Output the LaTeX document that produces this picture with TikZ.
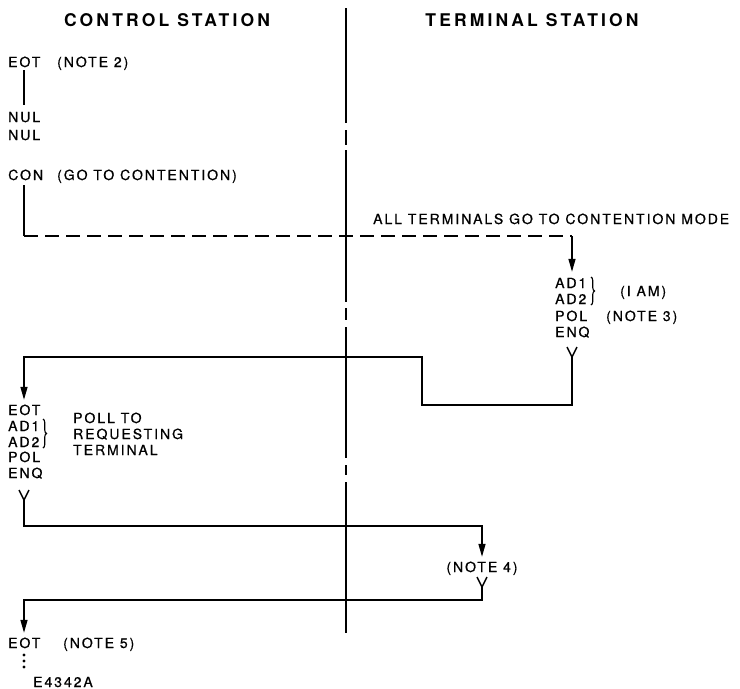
\documentclass[tikz,border=0pt]{standalone}
\usepackage{fontspec}
\setmainfont[LetterSpace=14, UprightFeatures={FakeBold=0.7}]{TeX Gyre Heros}
\usetikzlibrary{arrows.meta,decorations.pathreplacing,calc}
\begin{document}
\begin{tikzpicture}[x=1pt,y=-1pt,
  lbl/.style={inner sep=0pt, anchor=west, font=\fontsize{14}{16}\selectfont, text height=10pt, text depth=0pt},
  hdr/.style={inner sep=0pt, font=\fontsize{17.5}{20}\selectfont\bfseries\addfontfeature{LetterSpace=18}, text height=12.5pt, text depth=0pt},
  line/.style={line width=1.5pt},
  flow/.style={line width=1.5pt, -{Triangle[length=13pt,width=7pt]}},
  dashline/.style={line width=1.5pt, dash pattern=on 14pt off 7pt},
  brc/.style={line width=1.1pt, decorate, decoration={brace, amplitude=3.5pt}},
  dot/.style={circle, fill, inner sep=0pt, minimum size=3.2pt},
]
\useasboundingbox (0,0) rectangle (740,689);

% column coordinates
\coordinate (L) at (24,0);
\coordinate (T) at (572,0);
\coordinate (N) at (482,0);

% divider
\foreach \a/\b in {8/123,130/145,150/302,308/320,327/458,465/475,482/633}
  \draw[line] (346,\a) -- (346,\b);

% headers
\node[hdr] (hc) at (167,20) {CONTROL STATION};
\node[hdr] (ht) at (532,20) {TERMINAL STATION};

% control station, top
\node[lbl] (eot1) at (8,62) {EOT};
\node[lbl] (note2) at (57,62) {(NOTE 2)};
\node[lbl] (nul1) at (8,117) {NUL};
\node[lbl] (nul2) at (8,135) {NUL};
\node[lbl] (con) at (8,175) {CON};
\node[lbl] (gocon) at (57,175) {(GO TO CONTENTION)};

\draw[line] ([yshift=-3pt]eot1.south -| L) -- ([yshift=7pt]nul1.north -| L);

% contention broadcast
\node[lbl] (allt) at (373,219) {ALL TERMINALS GO TO CONTENTION MODE};
\coordinate (d1) at (24,236);
\coordinate (d2) at (572,236);
\draw[line] ([yshift=-5pt]con.south -| L) -- (d1);
\draw[dashline] (d1) -- (d2);

% terminal response
\node[lbl] (tad1) at (555,283) {AD1};
\node[lbl] (tad2) at (555,299) {AD2};
\node[lbl] (tpol) at (555,316) {POL};
\node[lbl] (tenq) at (555,332) {ENQ};
\node[lbl] (iam) at (620,291) {(I AM)};
\node[lbl] (note3) at (606,316) {(NOTE 3)};
\draw[brc] (591,277) -- (591,305);

\draw[flow] (d2) -- ([yshift=6pt]tad1.north -| T);

% fork under terminal ENQ
\coordinate (f1) at (572,357);
\draw[line] ($(f1)+(-5,-10)$) -- (f1) -- ($(f1)+(5,-10)$);
\coordinate (b1) at (572,405);
\coordinate (b2) at (422,405);
\coordinate (b3) at (422,357);
\coordinate (b4) at (24,357);

% control poll
\node[lbl] (ceot) at (8,410) {EOT};
\node[lbl] (cad1) at (8,426) {AD1};
\node[lbl] (cad2) at (8,442) {AD2};
\node[lbl] (cpol) at (8,457) {POL};
\node[lbl] (cenq) at (8,473) {ENQ};
\draw[brc] (43,419) -- (43,448);
\node[lbl] (poll1) at (73,418) {POLL TO};
\node[lbl] (poll2) at (73,434) {REQUESTING};
\node[lbl] (poll3) at (73,450) {TERMINAL};

\draw[flow] (f1) -- (b1) -- (b2) -- (b3) -- (b4) -- ([yshift=5pt]ceot.north -| L);

% fork under control ENQ
\coordinate (f2) at (24,500);
\draw[line] ($(f2)+(-5,-10)$) -- (f2) -- ($(f2)+(5,-10)$);
\coordinate (c1) at (24,526);
\coordinate (c2) at (482,526);

% note 4
\node[lbl, anchor=center] (note4) at (482,567) {(NOTE 4)};
\draw[flow] (f2) -- (c1) -- (c2) -- ([yshift=5pt]note4.north -| N);

% fork under note 4
\coordinate (f3) at (482,587);
\draw[line] ($(f3)+(-5,-10)$) -- (f3) -- ($(f3)+(5,-10)$);
\coordinate (e1) at (482,600);
\coordinate (e2) at (24,600);

% final EOT
\node[lbl] (eot5) at (8,643) {EOT};
\node[lbl] (note5) at (63,643) {(NOTE 5)};
\draw[flow] (f3) -- (e1) -- (e2) -- ([yshift=5pt]eot5.north -| L);

\node[dot] (dt1) at (24,655) {};
\node[dot] (dt2) at (24,661) {};
\node[dot] (dt3) at (24,667) {};

\node[lbl] (fig) at (33,682) {E4342A};
\end{tikzpicture}
\end{document}
